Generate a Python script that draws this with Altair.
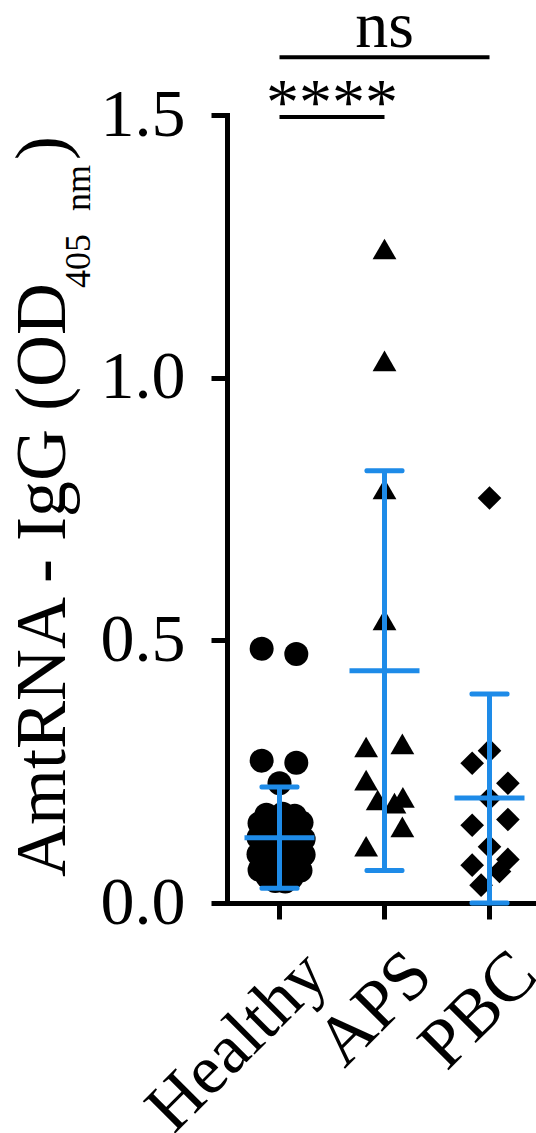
import altair as alt
import pandas as pd

groups = ["Healthy", "APS", "PBC"]

healthy_values = [0.484, 0.474, 0.271, 0.267, 0.228,
                  0.168, 0.170, 0.166, 0.152, 0.153, 0.139, 0.137,
                  0.124, 0.125, 0.122, 0.109, 0.108, 0.093, 0.094, 0.092,
                  0.078, 0.079, 0.063, 0.064, 0.062, 0.050, 0.048, 0.042, 0.041]
healthy_jitter = [-0.34, 0.32, -0.34, 0.32, 0.0,
                  -0.25, 0.06, 0.29, -0.38, 0.42, -0.15, 0.19,
                  -0.40, 0.0, 0.46, -0.19, 0.23, -0.40, 0.0, 0.46,
                  -0.19, 0.23, -0.38, 0.02, 0.40, -0.23, 0.23, -0.08, 0.11]

aps_values = [1.245, 1.032, 0.788, 0.539, 0.297, 0.303, 0.234, 0.196, 0.190, 0.201, 0.145, 0.108]
aps_jitter = [0.0, 0.0, 0.0, 0.0, -0.35, 0.34, -0.35, -0.13, 0.19, 0.35, 0.34, -0.35]

pbc_values = [0.771, 0.290, 0.266, 0.228, 0.199, 0.148, 0.159, 0.107, 0.072, 0.083, 0.060, 0.034]
pbc_jitter = [0.0, 0.0, -0.33, 0.35, 0.0, -0.33, 0.35, 0.0, -0.33, 0.35, 0.19, -0.16]

means = [0.124, 0.442, 0.200]
sd_low = [0.028, 0.062, 0.000]
sd_high = [0.221, 0.823, 0.398]

sig_from = ["Healthy", "Healthy"]
sig_to = ["APS", "PBC"]
sig_level = [1.496, 1.610]
sig_label = ["****", "ns"]
sig_label_group = ["Healthy", "APS"]
sig_label_offset = [1.0, 0.0]
sig_label_level = [1.483, 1.630]

FONT = "Liberation Serif"
BLUE = "#1e8be8"

rows = []
for g, vals, jit in [("Healthy", healthy_values, healthy_jitter),
                     ("APS", aps_values, aps_jitter),
                     ("PBC", pbc_values, pbc_jitter)]:
    for v, j in zip(vals, jit):
        rows.append({"group": g, "value": v, "jitter": j})
points_df = pd.DataFrame(rows)
stats_df = pd.DataFrame({"group": groups, "mean": means, "low": sd_low, "high": sd_high})
sig_df = pd.DataFrame({"from": sig_from, "to": sig_to, "level": sig_level})
sig_text_df = pd.DataFrame({"group": sig_label_group, "off": sig_label_offset,
                            "level": sig_label_level, "label": sig_label})

xscale = alt.Scale(domain=groups, range=[0, 315], paddingInner=0, paddingOuter=0)
yscale = alt.Scale(domain=[0, 1.5], nice=False, zero=True)
offscale = alt.Scale(domain=[-1, 1])

xaxis = alt.Axis(title=None, labelAngle=-45, labelAlign="right", labelBaseline="top",
                 labelFont=FONT, labelFontSize=70, labelColor="black", labelLimit=0,
                 labelOffset=12, labelPadding=20, tickSize=16, tickWidth=5,
                 tickColor="black", domainColor="black", domainWidth=5,
                 domainCap="square", grid=False)
yaxis = alt.Axis(title=None, values=[0, 0.5, 1.0, 1.5], format=".1f",
                 labelFont=FONT, labelFontSize=68, labelColor="black",
                 labelPadding=26, labelBaseline="middle",
                 tickSize=16, tickWidth=5, tickColor="black",
                 domainColor="black", domainWidth=5, domainCap="square", grid=False)

pts = alt.Chart(points_df).mark_point(filled=True, opacity=1, color="black").encode(
    x=alt.X("group:N", scale=xscale, axis=xaxis),
    xOffset=alt.XOffset("jitter:Q", scale=offscale),
    y=alt.Y("value:Q", scale=yscale, axis=yaxis),
    shape=alt.Shape("group:N", scale=alt.Scale(domain=groups, range=["circle", "triangle-up", "diamond"]), legend=None),
    size=alt.Size("group:N", scale=alt.Scale(domain=groups, range=[576, 560, 540]), legend=None),
)

ebar = alt.Chart(stats_df).mark_rule(color=BLUE, strokeWidth=5).encode(
    x=alt.X("group:N", scale=xscale),
    y=alt.Y("low:Q", scale=yscale),
    y2="high:Q",
)
cap_hi = alt.Chart(stats_df).mark_tick(color=BLUE, thickness=5, size=40, opacity=1, cornerRadius=2).encode(
    x=alt.X("group:N", scale=xscale),
    y=alt.Y("high:Q", scale=yscale),
)
cap_lo = alt.Chart(stats_df).mark_tick(color=BLUE, thickness=5, size=40, opacity=1, cornerRadius=2).encode(
    x=alt.X("group:N", scale=xscale),
    y=alt.Y("low:Q", scale=yscale),
)
mean_t = alt.Chart(stats_df).mark_tick(color=BLUE, thickness=5, size=70, opacity=1).encode(
    x=alt.X("group:N", scale=xscale),
    y=alt.Y("mean:Q", scale=yscale),
)

sig_rule = alt.Chart(sig_df).mark_rule(color="black", strokeWidth=4).encode(
    x=alt.X("from:N", scale=xscale),
    x2="to:N",
    y=alt.Y("level:Q", scale=yscale),
)
sig_text = alt.Chart(sig_text_df).mark_text(font=FONT, fontSize=66, color="black",
                                            align="center", baseline="alphabetic").encode(
    x=alt.X("group:N", scale=xscale),
    xOffset=alt.XOffset("off:Q", scale=offscale),
    y=alt.Y("level:Q", scale=yscale),
    text="label:N",
)

def tpiece(txt, x, y, size):
    return alt.Chart(pd.DataFrame({"t": [txt]})).mark_text(
        font=FONT, fontSize=size, color="black", angle=270,
        align="left", baseline="alphabetic").encode(
        x=alt.value(x), y=alt.value(y), text="t:N")

title_main = tpiece("AmtRNA - IgG (OD", -162, 762, 72)
title_sub1 = tpiece("405", -137, 173, 36)
title_sub2 = tpiece("nm", -137, 96, 36)
title_close = tpiece(")", -162, 45, 72)

chart = alt.layer(pts, ebar, cap_hi, cap_lo, mean_t, sig_rule, sig_text,
                  title_main, title_sub1, title_sub2, title_close).properties(
    width=309, height=788,
    autosize=alt.AutoSizeParams(type="none"),
    padding={"left": 227, "top": 115, "right": 0, "bottom": 230},
    background="white",
).configure_view(stroke=None)

chart.save("out.html", embed_options={"renderer": "svg", "actions": False})
